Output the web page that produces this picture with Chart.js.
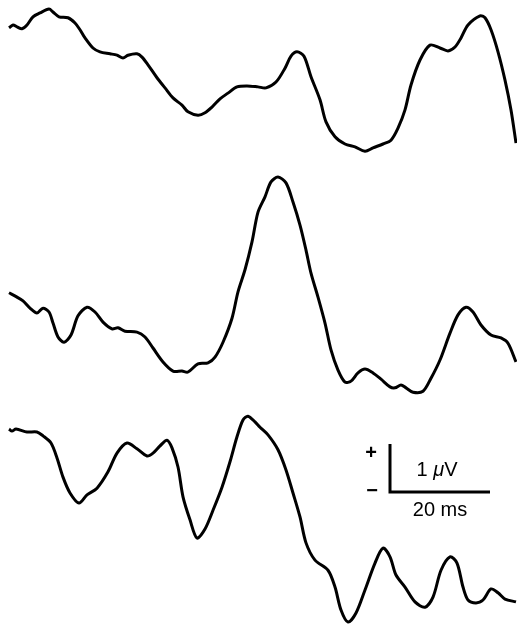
<!DOCTYPE html>
<html>
<head>
<meta charset="utf-8">
<script src="https://cdn.jsdelivr.net/npm/chart.js@4/dist/chart.umd.min.js"></script>
<style>
  html, body { margin: 0; padding: 0; background: #fff; }
  canvas { display: block; }
</style>
</head>
<body>
<canvas id="traces" width="517" height="624"></canvas>
<script>
// three averaged waveforms, time in ms, amplitude in µV
const trace1Ms = [1.8, 2.6, 3.4, 4.4, 5.4, 6.6, 8.0, 9.8, 10.6, 11.8, 13.6, 15.0, 16.0, 17.0, 18.6, 20.0, 22.0, 23.4, 24.6, 25.6, 27.4, 28.4, 29.6, 31.4, 33.0, 34.6, 36.4, 37.6, 39.6, 41.0, 42.4, 44.0, 45.6, 47.4, 49.4, 51.6, 53.2, 55.2, 57.0, 58.2, 59.4, 60.8, 62.2, 64.0, 65.2, 67.0, 69.0, 71.0, 73.0, 74.6, 76.6, 78.2, 79.6, 81.0, 82.2, 84.0, 86.0, 88.0, 89.6, 91.0, 92.2, 93.6, 96.0, 97.0, 98.2, 99.6, 101.0, 102.2, 103.2];
const trace1Uv = [1.42, 1.48, 1.44, 1.40, 1.48, 1.65, 1.73, 1.81, 1.75, 1.65, 1.63, 1.52, 1.38, 1.21, 1.00, 0.92, 0.88, 0.85, 0.79, 0.85, 0.88, 0.81, 0.65, 0.38, 0.17, -0.04, -0.19, -0.33, -0.40, -0.35, -0.23, -0.06, 0.06, 0.19, 0.21, 0.19, 0.17, 0.29, 0.58, 0.83, 0.92, 0.83, 0.40, -0.08, -0.54, -0.85, -1.00, -1.06, -1.15, -1.08, -1.00, -0.92, -0.67, -0.29, 0.23, 0.75, 1.06, 1.00, 0.94, 1.02, 1.21, 1.48, 1.67, 1.63, 1.38, 0.92, 0.33, -0.29, -0.98];

const trace2Ms = [1.8, 3.4, 4.6, 6.0, 7.4, 8.6, 9.8, 10.6, 11.6, 12.8, 14.2, 15.6, 17.4, 19.0, 20.6, 22.4, 23.6, 25.0, 27.4, 29.0, 30.6, 32.6, 34.6, 36.4, 37.6, 39.6, 41.6, 43.0, 44.6, 46.4, 47.6, 49.0, 50.4, 51.6, 53.0, 54.2, 55.6, 57.2, 58.6, 60.0, 61.2, 62.2, 63.6, 65.0, 66.2, 67.6, 69.0, 70.2, 71.6, 73.0, 74.6, 76.2, 78.0, 79.0, 80.2, 81.2, 82.6, 84.6, 86.2, 88.0, 90.0, 91.6, 93.2, 94.6, 96.2, 98.2, 100.2, 101.6, 103.2];
const trace2Uv = [-0.10, -0.19, -0.27, -0.42, -0.52, -0.42, -0.50, -0.73, -1.02, -1.13, -0.98, -0.58, -0.40, -0.50, -0.71, -0.85, -0.83, -0.90, -0.92, -1.02, -1.25, -1.54, -1.73, -1.73, -1.75, -1.58, -1.56, -1.44, -1.13, -0.63, -0.08, 0.38, 0.96, 1.58, 1.90, 2.21, 2.31, 2.19, 1.79, 1.31, 0.79, 0.31, -0.19, -0.73, -1.29, -1.71, -1.96, -1.94, -1.77, -1.69, -1.77, -1.90, -2.06, -2.08, -2.02, -2.08, -2.17, -2.15, -1.88, -1.50, -0.94, -0.56, -0.40, -0.50, -0.77, -0.98, -1.04, -1.15, -1.54];

const trace3Ms = [1.8, 2.4, 3.2, 5.4, 7.4, 8.6, 10.2, 11.4, 12.6, 14.0, 15.8, 17.4, 19.4, 21.6, 23.4, 25.4, 27.4, 29.4, 30.6, 32.0, 33.4, 34.4, 35.6, 36.6, 38.0, 39.4, 41.0, 42.6, 44.4, 46.0, 47.4, 48.6, 49.6, 51.0, 52.0, 53.6, 55.6, 57.2, 58.6, 60.0, 61.2, 63.0, 65.6, 67.0, 68.2, 69.6, 71.2, 73.0, 75.0, 76.6, 78.0, 79.2, 81.0, 83.0, 85.0, 86.6, 88.2, 90.0, 91.4, 92.6, 93.6, 95.2, 96.6, 98.2, 99.6, 101.0, 103.2];
const trace3Uv = [1.06, 1.02, 1.06, 1.00, 1.00, 0.92, 0.77, 0.46, 0.06, -0.27, -0.48, -0.31, -0.17, 0.17, 0.56, 0.77, 0.65, 0.50, 0.56, 0.71, 0.83, 0.67, 0.27, -0.35, -0.83, -1.21, -1.02, -0.63, -0.15, 0.38, 0.90, 1.25, 1.33, 1.21, 1.10, 0.94, 0.63, 0.21, -0.27, -0.77, -1.31, -1.67, -1.88, -2.23, -2.71, -2.96, -2.77, -2.29, -1.73, -1.42, -1.60, -1.98, -2.23, -2.54, -2.65, -2.44, -1.88, -1.60, -1.73, -2.23, -2.50, -2.56, -2.50, -2.27, -2.35, -2.48, -2.54];

// scale bar
const barMs = 20;
const barUv = 1;

// vertical stacking of the traces (µV below top edge)
const offsets = [-2, -6, -10];
const barOrigin = { x: 78, y: -10.25 };

function toPoints(ms, uv, off) {
  return ms.map((t, i) => ({ x: t, y: uv[i] + off }));
}

const lineStyle = {
  borderColor: '#000',
  borderWidth: 3,
  pointRadius: 0,
  tension: 0.3,
  fill: false
};

const FONT = '"Liberation Sans", Arial, sans-serif';

const scaleLabels = {
  id: 'scaleLabels',
  afterDatasetsDraw(chart) {
    const { ctx, scales } = chart;
    const x0 = scales.x.getPixelForValue(barOrigin.x);
    const x1 = scales.x.getPixelForValue(barOrigin.x + barMs);
    const y0 = scales.y.getPixelForValue(barOrigin.y);
    const y1 = scales.y.getPixelForValue(barOrigin.y + barUv);
    ctx.save();
    ctx.fillStyle = '#000';
    ctx.textAlign = 'center';
    ctx.textBaseline = 'middle';
    ctx.font = 'bold 20px ' + FONT;
    ctx.fillText('+', x0 - 19, y1 + 9);
    ctx.fillText('\u2212', x0 - 18, y0 - 1);
    ctx.font = '20px ' + FONT;
    ctx.fillText('20 ms', (x0 + x1) / 2, y0 + 18);
    // "1 µV" with italic mu
    const cx = (x0 + x1) / 2 - 3;
    const cy = (y0 + y1) / 2 + 2;
    const a = '1 ', b = '\u03bc', c = 'V';
    ctx.font = '20px ' + FONT;
    const wa = ctx.measureText(a).width;
    const wc = ctx.measureText(c).width;
    ctx.font = 'italic 20px ' + FONT;
    const wb = ctx.measureText(b).width;
    let x = cx - (wa + wb + wc) / 2;
    ctx.textAlign = 'left';
    ctx.font = '20px ' + FONT;
    ctx.fillText(a, x, cy);
    x += wa;
    ctx.font = 'italic 20px ' + FONT;
    ctx.fillText(b, x, cy);
    x += wb;
    ctx.font = '20px ' + FONT;
    ctx.fillText(c, x, cy);
    ctx.restore();
  }
};

new Chart(document.getElementById('traces'), {
  type: 'line',
  data: {
    datasets: [
      { ...lineStyle, data: toPoints(trace1Ms, trace1Uv, offsets[0]) },
      { ...lineStyle, data: toPoints(trace2Ms, trace2Uv, offsets[1]) },
      { ...lineStyle, data: toPoints(trace3Ms, trace3Uv, offsets[2]) },
      {
        borderColor: '#000',
        borderWidth: 3,
        pointRadius: 0,
        tension: 0,
        borderJoinStyle: 'miter',
        data: [
          { x: barOrigin.x, y: barOrigin.y + barUv },
          { x: barOrigin.x, y: barOrigin.y },
          { x: barOrigin.x + barMs, y: barOrigin.y }
        ]
      }
    ]
  },
  options: {
    responsive: false,
    animation: false,
    layout: { padding: 0 },
    plugins: { legend: { display: false }, tooltip: { enabled: false } },
    scales: {
      x: { type: 'linear', min: 0, max: 103.4, display: false },
      y: { type: 'linear', min: -13, max: 0, display: false }
    }
  },
  plugins: [scaleLabels]
});
</script>
</body>
</html>
